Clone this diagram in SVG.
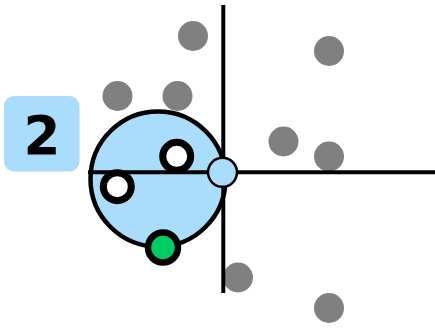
<svg xmlns="http://www.w3.org/2000/svg" width="435" height="328" viewBox="0 0 435 328">
<style>
.pt{fill:#808080;}
.ring{fill:#ffffff;stroke:#000;stroke-width:7;}
.ax{stroke:#000;stroke-width:4;fill:none;}
</style>
<rect width="435" height="328" fill="#ffffff"/>
<g id="points">
<circle class="pt" cx="193" cy="36" r="15"/>
<circle class="pt" cx="329" cy="51" r="15"/>
<circle class="pt" cx="117.5" cy="96" r="15"/>
<circle class="pt" cx="177.5" cy="96" r="15"/>
<circle class="pt" cx="283.5" cy="141.5" r="15"/>
<circle class="pt" cx="329" cy="156.5" r="15"/>
<circle class="pt" cx="238" cy="277.5" r="15"/>
<circle class="pt" cx="329" cy="308" r="15"/>
</g>
<g id="label">
<rect x="4" y="96" width="75.5" height="75.5" rx="10" fill="#aadcfc"/>
<text x="42" y="153.5" text-anchor="middle" font-family="DejaVu Sans, sans-serif" font-weight="bold" font-size="53" fill="#000">2</text>
</g>
<g id="region">
<circle cx="158" cy="179" r="67.5" fill="#aadcfc" stroke="#000" stroke-width="4.5"/>
</g>
<g id="axes">
<line class="ax" x1="88" y1="172.3" x2="435" y2="172.3"/>
<line class="ax" x1="223.3" y1="5" x2="223.3" y2="293"/>
</g>
<g id="rings">
<circle class="ring" cx="176.7" cy="156.3" r="14"/>
<circle class="ring" cx="117.3" cy="186.7" r="14"/>
</g>
<g id="green">
<circle cx="163" cy="247.5" r="15" fill="#00cc66" stroke="#000" stroke-width="6.5"/>
</g>
<g id="center">
<circle cx="222.5" cy="172.3" r="14.5" fill="#aadcfc" stroke="#000" stroke-width="2.5"/>
</g>
</svg>
